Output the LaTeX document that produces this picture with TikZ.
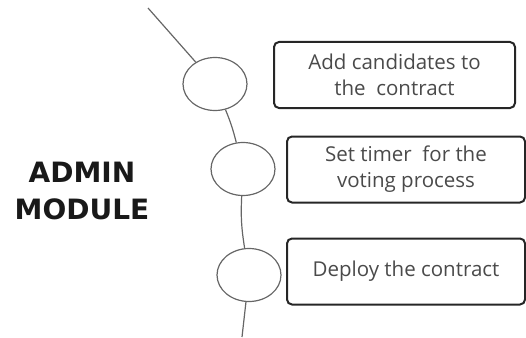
\documentclass[tikz,border=0pt]{standalone}
\usepackage{fontspec}
\setmainfont{Open Sans}
\newfontfamily\headfont{DejaVu Sans}
\usetikzlibrary{positioning,shapes.geometric}
\definecolor{inkgray}{HTML}{4A4A4A}
\definecolor{rimgray}{HTML}{666666}
\tikzset{
  stage/.style    = {ellipse, draw=rimgray, line width=1.2pt, fill=white,
                     minimum width=64pt, minimum height=53pt, inner sep=0pt},
  stepbox/.style  = {draw=black!85, line width=2pt, rounded corners=5pt,
                     minimum height=66pt, align=center, text=inkgray,
                     font=\fontsize{20.5}{26}\selectfont},
  link/.style     = {draw=rimgray, line width=1.2pt},
}
\begin{document}
\begin{tikzpicture}[x=1pt,y=-1pt]
  \useasboundingbox (0,0) rectangle (526,337);
  % stages along the path
  \node[stage] (s1) at (215,84) {};
  \node[stage] (s2) at (243,169) {};
  \node[stage] (s3) at (249,275) {};
  \coordinate (top) at (148,8);
  \coordinate (bot) at (242,337);
  \draw[link] (top) -- (s1);
  \draw[link] (s1) to[bend left=4] (s2);
  \draw[link] (s2) to[bend right=6] (s3);
  \draw[link] (s3) -- (bot);
  % steps
  \node[stepbox, minimum width=241pt] (add) at (394.5,75) {Add candidates to\\the\ \ contract};
  \node[stepbox, minimum width=238pt] (timer) at (406,169.5) {Set timer\ \ for the\\voting process};
  \node[stepbox, minimum width=238pt] (deploy) at (406,271.5) {Deploy the contract};
  % title
  \node[font=\headfont\bfseries\fontsize{28}{37}\selectfont, align=center, text=black!90]
    (title) at (82,191) {ADMIN\\MODULE};
\end{tikzpicture}
\end{document}
